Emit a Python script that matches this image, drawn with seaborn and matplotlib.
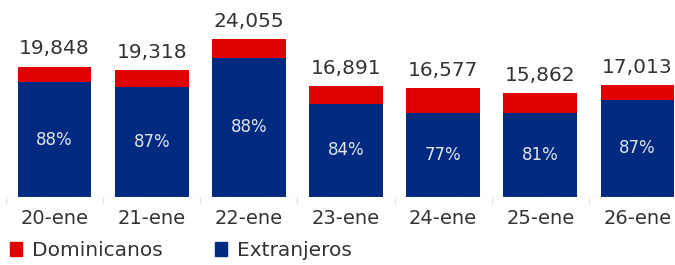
import matplotlib
matplotlib.use("Agg")
import matplotlib.pyplot as plt
from matplotlib.patches import Patch
import seaborn as sns
import pandas as pd
import numpy as np

sns.set_theme(style="white")
plt.rcParams['font.family'] = ['DejaVu Sans']

# datos
dias = ["20-ene", "21-ene", "22-ene", "23-ene", "24-ene", "25-ene", "26-ene"]
totales = [19848, 19318, 24055, 16891, 16577, 15862, 17013]
extranjeros = [17466, 16807, 21168, 14188, 12764, 12848, 14801]
dominicanos = [2382, 2511, 2887, 2703, 3813, 3014, 2212]
pct_extranjeros = ["88%", "87%", "88%", "84%", "77%", "81%", "87%"]

ROJO = "#E00000"
AZUL = "#002A7F"
TEXTO = "#333333"

df = pd.DataFrame({"dia": dias, "total": totales, "ext": extranjeros, "dom": dominicanos})

fig = plt.figure(figsize=(6.75, 2.65), dpi=100)
ax = fig.add_axes([6 / 675, 68 / 265, 680 / 675, 197 / 265])

# barra total (roja) y encima la parte de extranjeros (azul)
sns.barplot(data=df, x="dia", y="total", order=dias, color=ROJO, width=0.76,
            saturation=1, linewidth=0, ax=ax)
sns.barplot(data=df, x="dia", y="ext", order=dias, color=AZUL, width=0.76,
            saturation=1, linewidth=0, ax=ax)

for i, (tot, ext, pct) in enumerate(zip(totales, extranjeros, pct_extranjeros)):
    ax.annotate(f"{tot:,}", (i, tot), xytext=(0, 6), textcoords="offset points",
                ha="center", va="bottom", fontsize=14.5, color=TEXTO)
    ax.text(i, ext / 2, pct, ha="center", va="center", fontsize=12, color="#e2e6ef")

ax.set_ylim(0, 30000)
ax.set_xlim(-0.5, 6.5)
ax.axhline(0, color="#bbbbbb", linestyle=":", linewidth=1)
for s in ax.spines.values():
    s.set_visible(False)
ax.set_yticks([])
ax.set_xlabel("")
ax.set_ylabel("")
ax.set_xticks(range(len(dias)))
ax.set_xticklabels(dias, fontsize=14, color=TEXTO)
ax.set_xticks(np.arange(-0.5, 7, 1), minor=True)
ax.tick_params(axis="x", which="major", length=0, pad=9)
ax.tick_params(axis="x", which="minor", length=5, color="#e4e4e4", width=1, bottom=True)

handles = [Patch(color=ROJO, label="Dominicanos"), Patch(color=AZUL, label="Extranjeros")]
fig.legend(handles=handles, loc="lower left", bbox_to_anchor=(-0.012, -0.05), ncol=2,
           frameon=False, fontsize=14.5, handlelength=0.6, handleheight=0.75,
           handletextpad=0.5, columnspacing=2.6, labelcolor=TEXTO)

fig.savefig("out.png", dpi=100)
